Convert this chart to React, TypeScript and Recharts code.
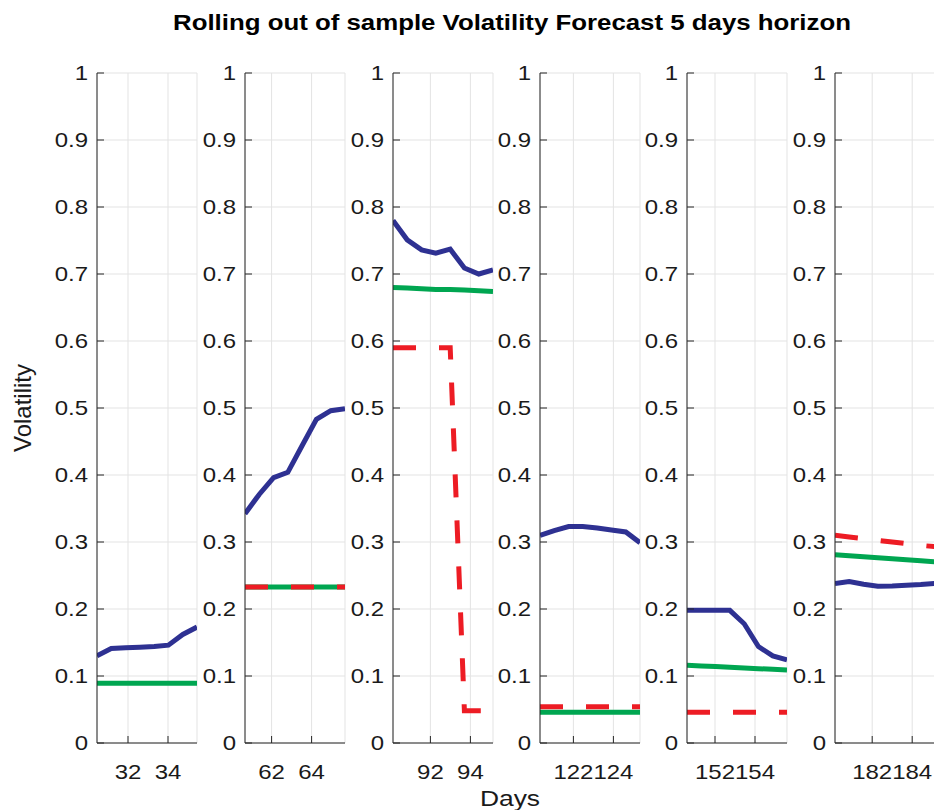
import { CartesianGrid, Line, LineChart, XAxis, YAxis } from "recharts";

// x positions of the forecast points in each window (days)
const xWin1 = [30.45, 31.16, 31.88, 32.59, 33.31, 34.02, 34.74, 35.45];
const xWin2 = [60.67, 61.38, 62.1, 62.81, 63.53, 64.24, 64.96, 65.67];
const xWin3 = [90.13, 90.84, 91.56, 92.27, 92.99, 93.7, 94.42, 95.13];
const xWin4 = [120.33, 121.04, 121.76, 122.47, 123.19, 123.9, 124.62, 125.33];
const xWin5 = [150.6, 151.31, 152.03, 152.74, 153.46, 154.17, 154.89, 155.6];
const xWin6 = [180.14, 180.85, 181.57, 182.28, 183.0, 183.71, 184.43, 185.14];

// blue: realised, green: forecast A, red (dashed): forecast B
const blue1 = [0.13, 0.141, 0.142, 0.143, 0.144, 0.146, 0.162, 0.173];
const green1 = [0.089, 0.089, 0.089, 0.089, 0.089, 0.089, 0.089, 0.089];
const red1: (number | null)[] = [null, null, null, null, null, null, null, null];

const blue2 = [0.342, 0.371, 0.396, 0.404, 0.444, 0.483, 0.496, 0.499];
const green2 = [0.233, 0.233, 0.233, 0.233, 0.233, 0.233, 0.233, 0.233];
const red2 = [0.233, 0.233, 0.233, 0.233, 0.233, 0.233, 0.233, 0.233];

const blue3 = [0.78, 0.751, 0.736, 0.731, 0.737, 0.709, 0.7, 0.706];
const green3 = [0.68, 0.679, 0.678, 0.677, 0.677, 0.676, 0.675, 0.674];
const red3 = [0.59, 0.59, 0.59, 0.59, 0.59, 0.048, 0.048, 0.048];

const blue4 = [0.31, 0.317, 0.323, 0.323, 0.321, 0.318, 0.315, 0.299];
const green4 = [0.046, 0.046, 0.046, 0.046, 0.046, 0.046, 0.046, 0.046];
const red4 = [0.054, 0.054, 0.054, 0.054, 0.054, 0.054, 0.054, 0.054];

const blue5 = [0.198, 0.198, 0.198, 0.198, 0.178, 0.144, 0.13, 0.124];
const green5 = [0.116, 0.115, 0.114, 0.113, 0.112, 0.111, 0.11, 0.109];
const red5 = [0.046, 0.046, 0.046, 0.046, 0.046, 0.046, 0.046, 0.046];

const blue6 = [0.238, 0.241, 0.237, 0.234, 0.2345, 0.2355, 0.2365, 0.238];
const green6 = [0.281, 0.2795, 0.278, 0.2765, 0.275, 0.2735, 0.272, 0.2705];
const red6 = [0.31, 0.3075, 0.305, 0.3025, 0.3, 0.2975, 0.295, 0.293];

const xDomains = [
  [30.45, 35.45],
  [60.67, 65.67],
  [90.13, 95.13],
  [120.33, 125.33],
  [150.6, 155.6],
  [180.14, 185.14],
];
const xTicks = [
  [32, 34],
  [62, 64],
  [92, 94],
  [122, 124],
  [152, 154],
  [182, 184],
];
const yTicks = [0, 0.1, 0.2, 0.3, 0.4, 0.5, 0.6, 0.7, 0.8, 0.9, 1];

const windows = [
  { x: xWin1, blue: blue1, green: green1, red: red1 },
  { x: xWin2, blue: blue2, green: green2, red: red2 },
  { x: xWin3, blue: blue3, green: green3, red: red3 },
  { x: xWin4, blue: blue4, green: green4, red: red4 },
  { x: xWin5, blue: blue5, green: green5, red: red5 },
  { x: xWin6, blue: blue6, green: green6, red: red6 },
];

const FONT = "'Liberation Sans', Arial, sans-serif";
const AXIS = "#262626";
const plotLefts = [97, 245, 392.5, 539.5, 687, 835];
const PLOT_TOP = 73;
const PLOT_H = 670;
const PLOT_W = 100;
const Y_AXIS_W = 60;
const TOP_PAD = 15;

function YTick(props: any) {
  const { x, y, payload } = props;
  return (
    <g>
      <line x1={x} x2={x + 7} y1={y} y2={y} stroke={AXIS} strokeWidth={1} />
      <text
        transform={`translate(${x - 9},${y}) scale(1.2,1)`}
        dy="0.35em"
        textAnchor="end"
        fontSize={20}
        fill="#1a1a1a"
        fontFamily={FONT}
      >
        {String(payload.value)}
      </text>
    </g>
  );
}

function XTick(props: any) {
  const { x, y, payload } = props;
  return (
    <g>
      <line x1={x} x2={x} y1={y} y2={y - 7} stroke={AXIS} strokeWidth={1} />
      <text
        transform={`translate(${x},${y + 29}) scale(1.2,1)`}
        dy="0.35em"
        textAnchor="middle"
        fontSize={20}
        fill="#1a1a1a"
        fontFamily={FONT}
      >
        {String(payload.value)}
      </text>
    </g>
  );
}

function Panel({ idx }: { idx: number }) {
  const w = windows[idx];
  const rows = w.x.map((x, i) => ({ x, blue: w.blue[i], green: w.green[i], red: w.red[i] }));
  return (
    <div style={{ position: "absolute", left: plotLefts[idx] - Y_AXIS_W, top: PLOT_TOP - TOP_PAD }}>
      <LineChart
        width={Y_AXIS_W + PLOT_W + 2}
        height={TOP_PAD + PLOT_H + 45}
        data={rows}
        margin={{ top: TOP_PAD, right: 2, bottom: 0, left: 0 }}
      >
        <CartesianGrid stroke="#e3e3e3" strokeWidth={1} />
        <XAxis
          type="number"
          dataKey="x"
          domain={xDomains[idx]}
          ticks={xTicks[idx]}
          allowDataOverflow
          height={45}
          tickSize={0}
          tickMargin={0}
          tickLine={false}
          tick={<XTick />}
          stroke={AXIS}
          interval={0}
        />
        <YAxis
          type="number"
          domain={[0, 1]}
          ticks={yTicks}
          width={Y_AXIS_W}
          tickSize={0}
          tickMargin={0}
          tickLine={false}
          tick={<YTick />}
          stroke={AXIS}
          interval={0}
        />
        <Line dataKey="blue" stroke="#2e3192" strokeWidth={5} dot={false} isAnimationActive={false} />
        <Line dataKey="green" stroke="#00a651" strokeWidth={5} dot={false} isAnimationActive={false} />
        <Line
          dataKey="red"
          stroke="#ed1c24"
          strokeWidth={5}
          strokeDasharray="23 23"
          dot={false}
          isAnimationActive={false}
          connectNulls={false}
        />
      </LineChart>
    </div>
  );
}

export default function App() {
  return (
    <div
      style={{
        position: "absolute",
        left: 0,
        top: 0,
        width: 934,
        height: 810,
        overflow: "hidden",
        background: "#fff",
        fontFamily: FONT,
      }}
    >
      {windows.map((_, i) => (
        <Panel key={i} idx={i} />
      ))}
      <svg width={934} height={810} style={{ position: "absolute", left: 0, top: 0, pointerEvents: "none" }}>
        <text
          x={512}
          y={30}
          textAnchor="middle"
          fontSize={22}
          fontWeight="bold"
          fill="#000"
          fontFamily={FONT}
          textLength={678}
          lengthAdjust="spacingAndGlyphs"
        >
          Rolling out of sample Volatility Forecast 5 days horizon
        </text>
        <text
          transform="translate(510,806) scale(1.2,1)"
          textAnchor="middle"
          fontSize={22}
          fill="#1a1a1a"
          fontFamily={FONT}
        >
          Days
        </text>
        <text
          x={31}
          y={408}
          textAnchor="middle"
          fontSize={24}
          fill="#1a1a1a"
          fontFamily={FONT}
          transform="rotate(-90 31 408)"
        >
          Volatility
        </text>
      </svg>
    </div>
  );
}
